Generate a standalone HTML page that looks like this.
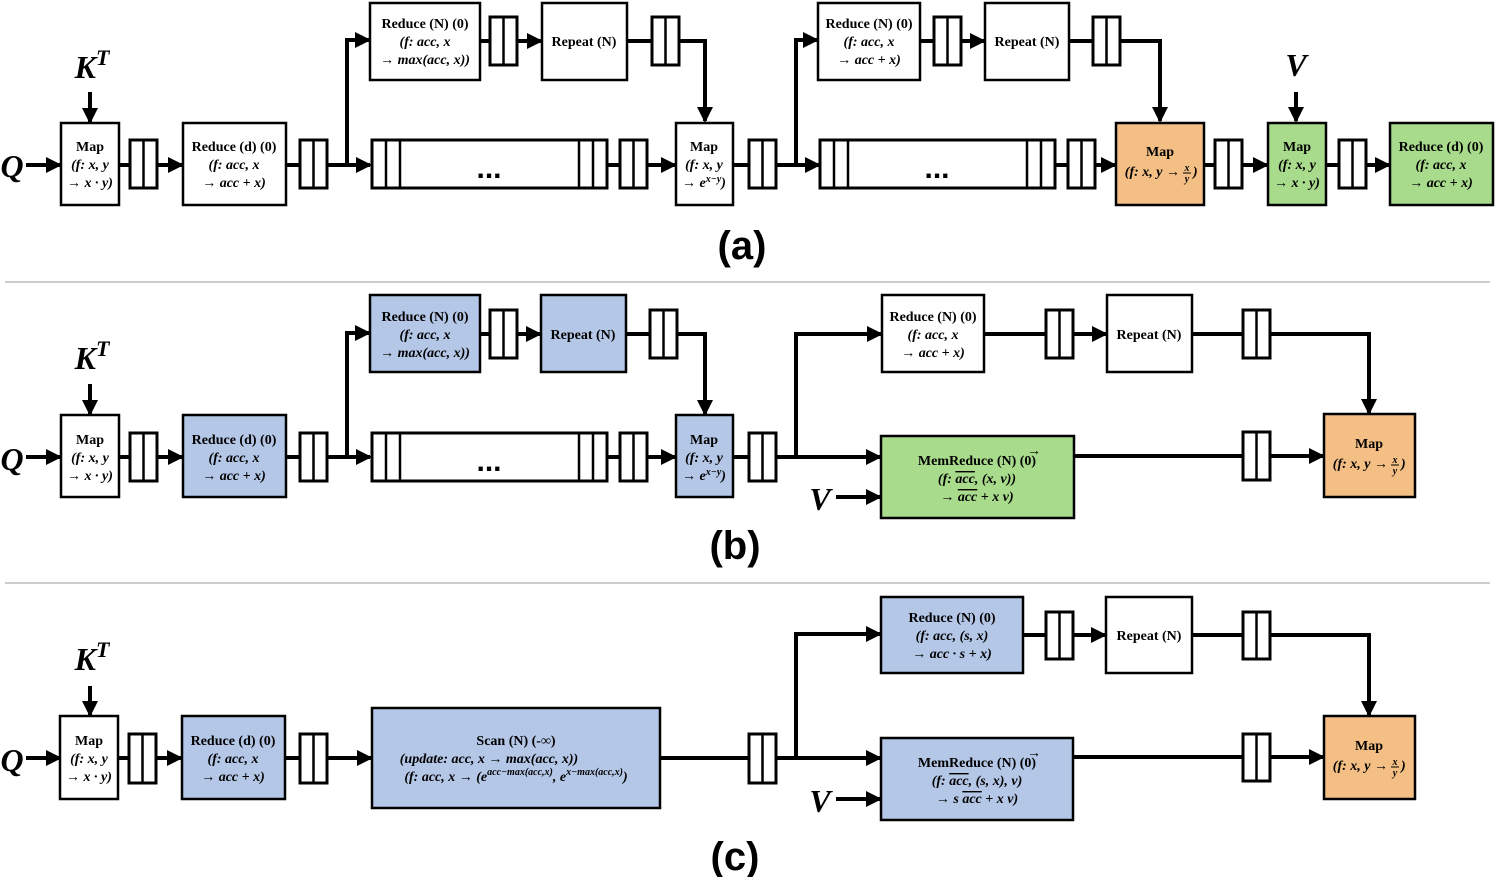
<!DOCTYPE html>
<html><head><meta charset="utf-8"><style>
html,body{margin:0;padding:0;background:#fff;}
svg{display:block;}
.t{font-family:"Liberation Serif",serif;font-weight:bold;font-size:14px;text-anchor:middle;}
.i{font-style:italic;}
.s{font-family:"Liberation Serif",serif;font-weight:bold;font-style:italic;font-size:10px;text-anchor:middle;}
.lab{font-family:"Liberation Sans",sans-serif;font-weight:bold;font-size:40px;text-anchor:middle;}
.big{font-family:"Liberation Serif",serif;font-weight:bold;font-style:italic;font-size:32px;text-anchor:middle;}
.d{font-family:"Liberation Sans",sans-serif;font-weight:bold;font-size:30px;text-anchor:middle;}
.b{stroke:#000;stroke-width:2.5;}
.q{fill:#fff;stroke:#000;stroke-width:3;}
.l{stroke:#000;stroke-width:4;fill:none;}
.ov{text-decoration:overline;}
</style></head><body>
<svg width="1495" height="877" viewBox="0 0 1495 877" xmlns="http://www.w3.org/2000/svg">
<defs>
<marker id="a" markerUnits="userSpaceOnUse" markerWidth="16" markerHeight="16" refX="14" refY="8" orient="auto"><path d="M0,0 L16,8 L0,16 Z" fill="#000"/></marker>
</defs>

<!-- ========== (a) ========== -->
<text class="big" x="12" y="177">Q</text>
<line class="l" x1="26" y1="165" x2="60" y2="165" marker-end="url(#a)"/>
<text class="big" x="92" y="78">K<tspan font-size="22" dy="-13">T</tspan></text>
<line class="l" x1="90" y1="92" x2="90" y2="122" marker-end="url(#a)"/>
<line class="l" x1="119" y1="165" x2="182" y2="165" marker-end="url(#a)"/>
<line class="l" x1="286" y1="165" x2="370" y2="165" marker-end="url(#a)"/>
<polyline class="l" points="347,165 347,40 369,40" marker-end="url(#a)"/>
<line class="l" x1="480" y1="41" x2="541" y2="41" marker-end="url(#a)"/>
<polyline class="l" points="627,41 705,41 705,121" marker-end="url(#a)"/>
<line class="l" x1="607" y1="165" x2="675" y2="165" marker-end="url(#a)"/>
<line class="l" x1="733" y1="165" x2="819" y2="165" marker-end="url(#a)"/>
<polyline class="l" points="796,165 796,40 817,40" marker-end="url(#a)"/>
<line class="l" x1="920" y1="41" x2="984" y2="41" marker-end="url(#a)"/>
<polyline class="l" points="1069,41 1160,41 1160,121" marker-end="url(#a)"/>
<line class="l" x1="1055" y1="165" x2="1115" y2="165" marker-end="url(#a)"/>
<line class="l" x1="1204" y1="165" x2="1267" y2="165" marker-end="url(#a)"/>
<line class="l" x1="1326" y1="165" x2="1389" y2="165" marker-end="url(#a)"/>
<text class="big" x="1296" y="76">V</text>
<line class="l" x1="1296" y1="92" x2="1296" y2="121" marker-end="url(#a)"/>

<rect class="b" x="61" y="123" width="58" height="82" fill="#fff"/>
<text class="t" x="90" y="151">Map</text><text class="t i" x="90" y="169">(f: x, y</text><text class="t i" x="90" y="187">→ x · y)</text>
<rect class="q" x="130" y="140" width="27" height="48"/><line class="b" x1="143.5" y1="140" x2="143.5" y2="188"/>
<rect class="b" x="183" y="123" width="103" height="82" fill="#fff"/>
<text class="t" x="234" y="151">Reduce (d) (0)</text><text class="t i" x="234" y="169">(f: acc, x</text><text class="t i" x="234" y="187">→ acc + x)</text>
<rect class="q" x="300" y="140" width="27" height="48"/><line class="b" x1="313.5" y1="140" x2="313.5" y2="188"/>
<rect class="b" x="370" y="3" width="110" height="77" fill="#fff"/>
<text class="t" x="425" y="28">Reduce (N) (0)</text><text class="t i" x="425" y="46">(f: acc, x</text><text class="t i" x="425" y="64">→ max(acc, x))</text>
<rect class="q" x="490" y="17" width="27" height="48"/><line class="b" x1="503.5" y1="17" x2="503.5" y2="65"/>
<rect class="b" x="542" y="3" width="85" height="77" fill="#fff"/>
<text class="t" x="584" y="46">Repeat (N)</text>
<rect class="q" x="652" y="17" width="27" height="48"/><line class="b" x1="665.5" y1="17" x2="665.5" y2="65"/>
<rect class="q" x="372" y="140" width="235" height="48"/>
<line class="b" x1="386" y1="140" x2="386" y2="188"/><line class="b" x1="400" y1="140" x2="400" y2="188"/>
<line class="b" x1="579" y1="140" x2="579" y2="188"/><line class="b" x1="593" y1="140" x2="593" y2="188"/>
<text class="d" x="489" y="178">...</text>
<rect class="q" x="620" y="140" width="27" height="48"/><line class="b" x1="633.5" y1="140" x2="633.5" y2="188"/>
<rect class="b" x="676" y="123" width="57" height="82" fill="#fff"/>
<text class="t" x="704" y="151">Map</text><text class="t i" x="704" y="169">(f: x, y</text><text class="t i" x="704" y="187">→ e<tspan font-size="10" dy="-5">x−y</tspan><tspan dy="5">)</tspan></text>
<rect class="q" x="749" y="140" width="27" height="48"/><line class="b" x1="762.5" y1="140" x2="762.5" y2="188"/>
<rect class="b" x="818" y="3" width="102" height="77" fill="#fff"/>
<text class="t" x="869" y="28">Reduce (N) (0)</text><text class="t i" x="869" y="46">(f: acc, x</text><text class="t i" x="869" y="64">→ acc + x)</text>
<rect class="q" x="934" y="17" width="27" height="48"/><line class="b" x1="947.5" y1="17" x2="947.5" y2="65"/>
<rect class="b" x="985" y="3" width="84" height="77" fill="#fff"/>
<text class="t" x="1027" y="46">Repeat (N)</text>
<rect class="q" x="1093" y="17" width="27" height="48"/><line class="b" x1="1106.5" y1="17" x2="1106.5" y2="65"/>
<rect class="q" x="820" y="140" width="235" height="48"/>
<line class="b" x1="834" y1="140" x2="834" y2="188"/><line class="b" x1="848" y1="140" x2="848" y2="188"/>
<line class="b" x1="1027" y1="140" x2="1027" y2="188"/><line class="b" x1="1041" y1="140" x2="1041" y2="188"/>
<text class="d" x="937" y="178">...</text>
<rect class="q" x="1068" y="140" width="27" height="48"/><line class="b" x1="1081.5" y1="140" x2="1081.5" y2="188"/>
<rect class="b" x="1116" y="123" width="88" height="82" fill="#F4BF85"/>
<text class="t" x="1160" y="156">Map</text>
<text class="t i" x="1180" y="176" style="text-anchor:end">(f: x, y →</text>
<text class="s" x="1187" y="171">x</text><line stroke="#000" stroke-width="1" x1="1183" y1="173" x2="1191" y2="173"/><text class="s" x="1187" y="182">y</text>
<text class="t i" x="1193" y="176" style="text-anchor:start">)</text>
<rect class="q" x="1215" y="140" width="27" height="48"/><line class="b" x1="1228.5" y1="140" x2="1228.5" y2="188"/>
<rect class="b" x="1268" y="123" width="58" height="82" fill="#A9DB8C"/>
<text class="t" x="1297" y="151">Map</text><text class="t i" x="1297" y="169">(f: x, y</text><text class="t i" x="1297" y="187">→ x · y)</text>
<rect class="q" x="1339" y="140" width="27" height="48"/><line class="b" x1="1352.5" y1="140" x2="1352.5" y2="188"/>
<rect class="b" x="1390" y="123" width="103" height="82" fill="#A9DB8C"/>
<text class="t" x="1441" y="151">Reduce (d) (0)</text><text class="t i" x="1441" y="169">(f: acc, x</text><text class="t i" x="1441" y="187">→ acc + x)</text>
<text class="lab" x="742" y="259">(a)</text>
<line x1="5" y1="282" x2="1490" y2="282" stroke="#bbb" stroke-width="1.5"/>

<!-- ========== (b) ========== -->
<text class="big" x="12" y="470">Q</text>
<line class="l" x1="26" y1="457" x2="60" y2="457" marker-end="url(#a)"/>
<text class="big" x="92" y="369">K<tspan font-size="22" dy="-13">T</tspan></text>
<line class="l" x1="90" y1="384" x2="90" y2="414" marker-end="url(#a)"/>
<line class="l" x1="119" y1="457" x2="182" y2="457" marker-end="url(#a)"/>
<line class="l" x1="286" y1="457" x2="370" y2="457" marker-end="url(#a)"/>
<polyline class="l" points="347,457 347,333 369,333" marker-end="url(#a)"/>
<line class="l" x1="480" y1="334" x2="540" y2="334" marker-end="url(#a)"/>
<polyline class="l" points="626,334 705,334 705,414" marker-end="url(#a)"/>
<line class="l" x1="607" y1="457" x2="675" y2="457" marker-end="url(#a)"/>
<line class="l" x1="733" y1="457" x2="880" y2="457" marker-end="url(#a)"/>
<polyline class="l" points="796,457 796,334 881,334" marker-end="url(#a)"/>
<line class="l" x1="984" y1="334" x2="1106" y2="334" marker-end="url(#a)"/>
<polyline class="l" points="1192,334 1369,334 1369,413" marker-end="url(#a)"/>
<line class="l" x1="1074" y1="456" x2="1323" y2="456" marker-end="url(#a)"/>
<text class="big" x="820" y="510">V</text>
<line class="l" x1="836" y1="497" x2="880" y2="497" marker-end="url(#a)"/>

<rect class="b" x="61" y="415" width="58" height="82" fill="#fff"/>
<text class="t" x="90" y="444">Map</text><text class="t i" x="90" y="462">(f: x, y</text><text class="t i" x="90" y="480">→ x · y)</text>
<rect class="q" x="130" y="433" width="27" height="48"/><line class="b" x1="143.5" y1="433" x2="143.5" y2="481"/>
<rect class="b" x="183" y="415" width="103" height="82" fill="#B4C7E7"/>
<text class="t" x="234" y="444">Reduce (d) (0)</text><text class="t i" x="234" y="462">(f: acc, x</text><text class="t i" x="234" y="480">→ acc + x)</text>
<rect class="q" x="300" y="433" width="27" height="48"/><line class="b" x1="313.5" y1="433" x2="313.5" y2="481"/>
<rect class="b" x="370" y="295" width="110" height="77" fill="#B4C7E7"/>
<text class="t" x="425" y="321">Reduce (N) (0)</text><text class="t i" x="425" y="339">(f: acc, x</text><text class="t i" x="425" y="357">→ max(acc, x))</text>
<rect class="q" x="490" y="310" width="27" height="48"/><line class="b" x1="503.5" y1="310" x2="503.5" y2="358"/>
<rect class="b" x="541" y="295" width="85" height="77" fill="#B4C7E7"/>
<text class="t" x="583" y="339">Repeat (N)</text>
<rect class="q" x="650" y="310" width="27" height="48"/><line class="b" x1="663.5" y1="310" x2="663.5" y2="358"/>
<rect class="q" x="372" y="433" width="235" height="48"/>
<line class="b" x1="386" y1="433" x2="386" y2="481"/><line class="b" x1="400" y1="433" x2="400" y2="481"/>
<line class="b" x1="579" y1="433" x2="579" y2="481"/><line class="b" x1="593" y1="433" x2="593" y2="481"/>
<text class="d" x="489" y="471">...</text>
<rect class="q" x="620" y="433" width="27" height="48"/><line class="b" x1="633.5" y1="433" x2="633.5" y2="481"/>
<rect class="b" x="676" y="415" width="57" height="82" fill="#B4C7E7"/>
<text class="t" x="704" y="444">Map</text><text class="t i" x="704" y="462">(f: x, y</text><text class="t i" x="704" y="480">→ e<tspan font-size="10" dy="-5">x−y</tspan><tspan dy="5">)</tspan></text>
<rect class="q" x="749" y="433" width="27" height="48"/><line class="b" x1="762.5" y1="433" x2="762.5" y2="481"/>
<rect class="b" x="882" y="295" width="102" height="77" fill="#fff"/>
<text class="t" x="933" y="321">Reduce (N) (0)</text><text class="t i" x="933" y="339">(f: acc, x</text><text class="t i" x="933" y="357">→ acc + x)</text>
<rect class="q" x="1046" y="310" width="27" height="48"/><line class="b" x1="1059.5" y1="310" x2="1059.5" y2="358"/>
<rect class="b" x="1107" y="295" width="85" height="77" fill="#fff"/>
<text class="t" x="1149" y="339">Repeat (N)</text>
<rect class="q" x="1243" y="310" width="27" height="48"/><line class="b" x1="1256.5" y1="310" x2="1256.5" y2="358"/>
<rect class="b" x="881" y="436" width="193" height="82" fill="#A9DB8C"/>
<text class="t" x="977" y="465">MemReduce (N) (0)</text><text class="t" x="1034" y="455" font-size="10">→</text>
<text class="t i" x="977" y="483">(f: <tspan class="ov">acc</tspan>, (x, v))</text>
<text class="t i" x="977" y="501">→ <tspan class="ov">acc</tspan> + x v)</text>
<rect class="q" x="1243" y="432" width="27" height="48"/><line class="b" x1="1256.5" y1="432" x2="1256.5" y2="480"/>
<rect class="b" x="1324" y="414" width="91" height="83" fill="#F4BF85"/>
<text class="t" x="1369" y="448">Map</text>
<text class="t i" x="1388" y="468" style="text-anchor:end">(f: x, y →</text>
<text class="s" x="1395" y="463">x</text><line stroke="#000" stroke-width="1" x1="1391" y1="465" x2="1399" y2="465"/><text class="s" x="1395" y="474">y</text>
<text class="t i" x="1401" y="468" style="text-anchor:start">)</text>
<text class="lab" x="735" y="559">(b)</text>
<line x1="5" y1="583" x2="1490" y2="583" stroke="#bbb" stroke-width="1.5"/>

<!-- ========== (c) ========== -->
<text class="big" x="12" y="771">Q</text>
<line class="l" x1="26" y1="758" x2="60" y2="758" marker-end="url(#a)"/>
<text class="big" x="92" y="670">K<tspan font-size="22" dy="-13">T</tspan></text>
<line class="l" x1="90" y1="686" x2="90" y2="715" marker-end="url(#a)"/>
<line class="l" x1="118" y1="758" x2="181" y2="758" marker-end="url(#a)"/>
<line class="l" x1="285" y1="758" x2="371" y2="758" marker-end="url(#a)"/>
<line class="l" x1="660" y1="758" x2="880" y2="758" marker-end="url(#a)"/>
<polyline class="l" points="796,758 796,634 880,634" marker-end="url(#a)"/>
<line class="l" x1="1023" y1="635" x2="1105" y2="635" marker-end="url(#a)"/>
<polyline class="l" points="1192,635 1369,635 1369,715" marker-end="url(#a)"/>
<line class="l" x1="1073" y1="757" x2="1323" y2="757" marker-end="url(#a)"/>
<text class="big" x="820" y="812">V</text>
<line class="l" x1="836" y1="799" x2="880" y2="799" marker-end="url(#a)"/>

<rect class="b" x="60" y="716" width="58" height="83" fill="#fff"/>
<text class="t" x="89" y="745">Map</text><text class="t i" x="89" y="763">(f: x, y</text><text class="t i" x="89" y="781">→ x · y)</text>
<rect class="q" x="129" y="734" width="27" height="49"/><line class="b" x1="142.5" y1="734" x2="142.5" y2="783"/>
<rect class="b" x="182" y="716" width="103" height="83" fill="#B4C7E7"/>
<text class="t" x="233" y="745">Reduce (d) (0)</text><text class="t i" x="233" y="763">(f: acc, x</text><text class="t i" x="233" y="781">→ acc + x)</text>
<rect class="q" x="300" y="734" width="27" height="49"/><line class="b" x1="313.5" y1="734" x2="313.5" y2="783"/>
<rect class="b" x="372" y="708" width="288" height="100" fill="#B4C7E7"/>
<text class="t" x="516" y="745">Scan (N) (-∞)</text>
<text class="t i" x="489" y="763">(update: acc, x → max(acc, x))</text>
<text class="t i" x="516" y="781">(f: acc, x → (e<tspan font-size="10" dy="-6">acc−max(acc,x)</tspan><tspan dy="6">, e</tspan><tspan font-size="10" dy="-6">x−max(acc,x)</tspan><tspan dy="6">)</tspan></text>
<rect class="q" x="749" y="734" width="27" height="49"/><line class="b" x1="762.5" y1="734" x2="762.5" y2="783"/>
<rect class="b" x="881" y="597" width="142" height="76" fill="#B4C7E7"/>
<text class="t" x="952" y="622">Reduce (N) (0)</text><text class="t i" x="952" y="640">(f: acc, (s, x)</text><text class="t i" x="952" y="658">→ acc · s + x)</text>
<rect class="q" x="1046" y="612" width="27" height="47"/><line class="b" x1="1059.5" y1="612" x2="1059.5" y2="659"/>
<rect class="b" x="1106" y="597" width="86" height="76" fill="#fff"/>
<text class="t" x="1149" y="640">Repeat (N)</text>
<rect class="q" x="1243" y="612" width="27" height="47"/><line class="b" x1="1256.5" y1="612" x2="1256.5" y2="659"/>
<rect class="b" x="881" y="738" width="192" height="82" fill="#B4C7E7"/>
<text class="t" x="977" y="767">MemReduce (N) (0)</text><text class="t" x="1034" y="757" font-size="10">→</text>
<text class="t i" x="977" y="785">(f: <tspan class="ov">acc</tspan>, (s, x), v)</text>
<text class="t i" x="977" y="803">→ s <tspan class="ov">acc</tspan> + x v)</text>
<rect class="q" x="1243" y="734" width="27" height="47"/><line class="b" x1="1256.5" y1="734" x2="1256.5" y2="781"/>
<rect class="b" x="1324" y="716" width="91" height="83" fill="#F4BF85"/>
<text class="t" x="1369" y="750">Map</text>
<text class="t i" x="1388" y="770" style="text-anchor:end">(f: x, y →</text>
<text class="s" x="1395" y="765">x</text><line stroke="#000" stroke-width="1" x1="1391" y1="767" x2="1399" y2="767"/><text class="s" x="1395" y="776">y</text>
<text class="t i" x="1401" y="770" style="text-anchor:start">)</text>
<text class="lab" x="735" y="870">(c)</text>
</svg>
</body></html>
